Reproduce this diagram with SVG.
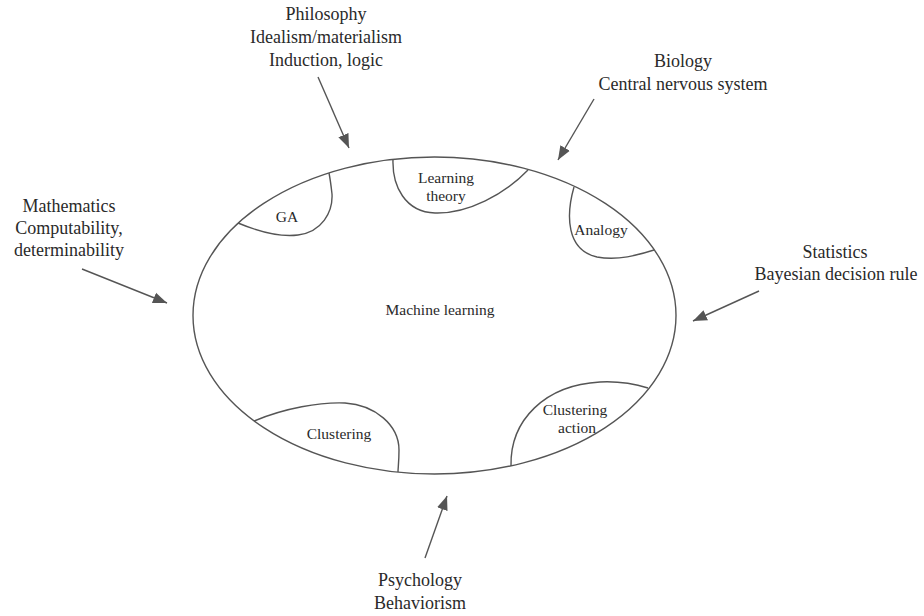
<svg xmlns="http://www.w3.org/2000/svg" width="924" height="616" viewBox="0 0 924 616">
<style>
.t{font-family:"Liberation Serif","Times New Roman",serif;fill:#2a2a2a;text-anchor:middle}
.o{font-size:18px}
.i{font-size:15.5px}
.ln{fill:none;stroke:#555;stroke-width:1.4}
.ar{fill:none;stroke:#555;stroke-width:1.4;marker-end:url(#ah)}
</style>
<defs>
<marker id="ah" markerUnits="userSpaceOnUse" markerWidth="15" markerHeight="12" refX="14" refY="5.5" orient="auto" viewBox="0 0 15 11">
<path d="M0,0 L14,5.5 L0,11 z" fill="#555"/>
</marker>
</defs>
<rect width="924" height="616" fill="#fff"/>
<g id="machine-learning">
<ellipse class="ln" cx="434.5" cy="315.5" rx="241.5" ry="158.5"/>
<text class="t i" x="440" y="315">Machine learning</text>
</g>
<g id="ga">
<path class="ln" d="M238,223 C262,233 282,237 298,235 C322,232 333,212 332,194 C331,185 330,178 329,173"/>
<text class="t i" x="287" y="222">GA</text>
</g>
<g id="learning-theory">
<path class="ln" d="M393,159 C392,186 405,212 435,213 C468,214 505,194 528,170"/>
<text class="t i" x="446" y="183">Learning</text>
<text class="t i" x="446" y="201">theory</text>
</g>
<g id="analogy">
<path class="ln" d="M574,187 C566,215 566,250 597,257 C618,261 638,255 654,250"/>
<text class="t i" x="601" y="235">Analogy</text>
</g>
<g id="clustering">
<path class="ln" d="M254,421 C285,408 320,402 345,403 C375,405 399,425 399,450 C399,462 398,468 398,472"/>
<text class="t i" x="339" y="439">Clustering</text>
</g>
<g id="clustering-action">
<path class="ln" d="M511,466 C510,420 545,385 600,382 C620,381 635,384 648,388"/>
<text class="t i" x="575" y="415">Clustering</text>
<text class="t i" x="577" y="433">action</text>
</g>
<g id="philosophy">
<text class="t o" x="326" y="20">Philosophy</text>
<text class="t o" x="326" y="43">Idealism/materialism</text>
<text class="t o" x="326" y="66">Induction, logic</text>
</g>
<g id="biology">
<text class="t o" x="683" y="67">Biology</text>
<text class="t o" x="683" y="90">Central nervous system</text>
</g>
<g id="mathematics">
<text class="t o" x="69" y="212">Mathematics</text>
<text class="t o" x="69" y="234">Computability,</text>
<text class="t o" x="69" y="256">determinability</text>
</g>
<g id="statistics">
<text class="t o" x="835" y="258">Statistics</text>
<text class="t o" x="836" y="280">Bayesian decision rule</text>
</g>
<g id="psychology">
<text class="t o" x="420" y="586">Psychology</text>
<text class="t o" x="420" y="609">Behaviorism</text>
</g>
<g id="connectors">
<line class="ar" x1="318" y1="77" x2="349" y2="148"/>
<line class="ar" x1="594" y1="99" x2="558" y2="160"/>
<line class="ar" x1="82" y1="269" x2="167" y2="303"/>
<line class="ar" x1="759" y1="291" x2="693" y2="321"/>
<line class="ar" x1="425" y1="558" x2="447" y2="496"/>
</g>
</svg>
